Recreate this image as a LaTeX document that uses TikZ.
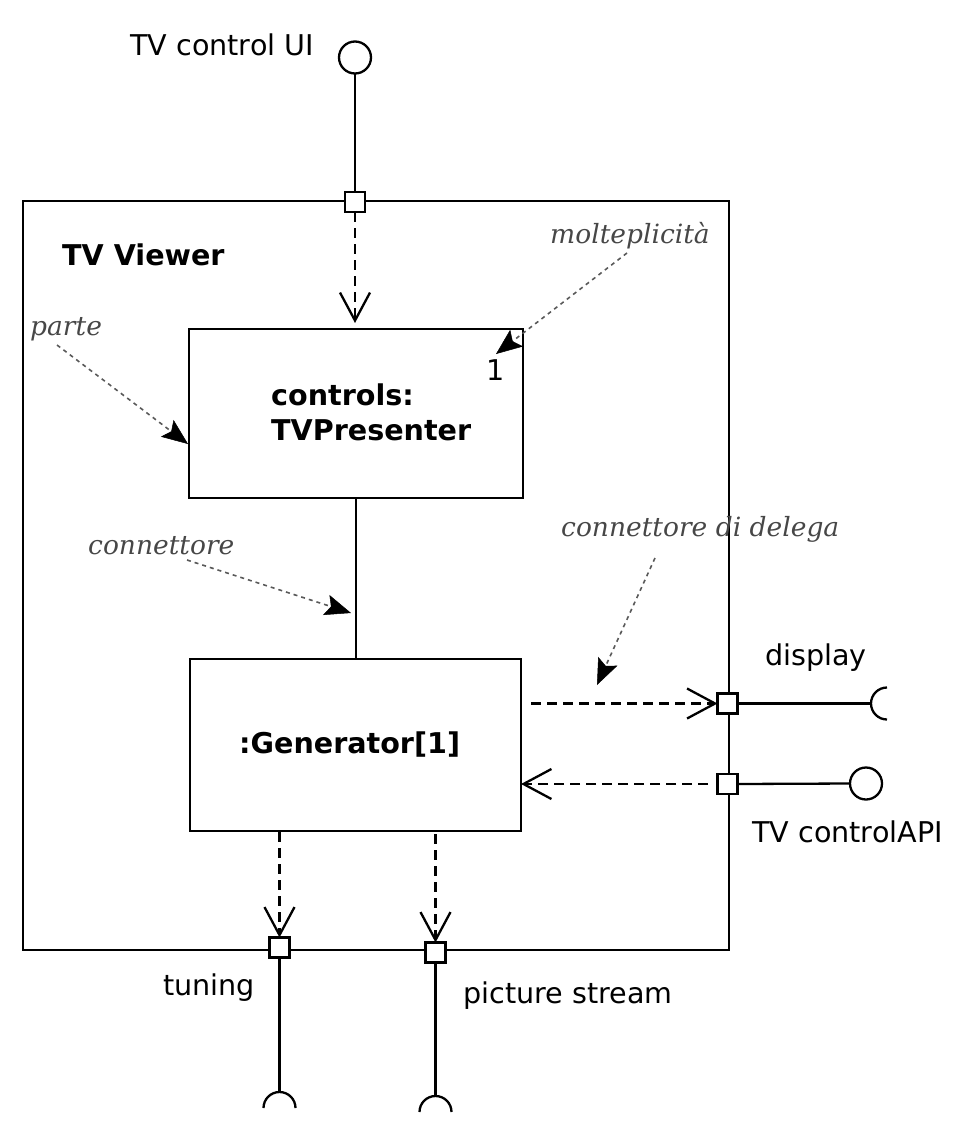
\documentclass[tikz,border=0pt]{standalone}
\usepackage{fontspec}
\setmainfont{DejaVu Sans}
\newfontfamily\annotfont{DejaVu Serif}
\usetikzlibrary{arrows.meta}
\begin{document}
\begin{tikzpicture}[x=1pt,y=-1pt,
  thick line/.style={line width=2.3pt},
  partbox/.style={draw, line width=2.3pt, inner sep=0pt, outer sep=0pt},
  port/.style={draw, fill=white, line width=2.3pt, minimum size=20pt, inner sep=0pt, outer sep=0pt},
  lolli/.style={draw, circle, line width=2.3pt, minimum size=32pt, inner sep=0pt, outer sep=0pt},
  lbl/.style={inner sep=0pt, anchor=base west, font=\fontsize{28.6}{34}\selectfont},
  blbl/.style={inner sep=0pt, anchor=base west, font=\fontsize{28.6}{34}\selectfont\bfseries},
  note/.style={inner sep=0pt, anchor=base west, font=\annotfont\itshape\fontsize{26.5}{32}\selectfont, text=black!72},
  delegation/.style={line width=2.3pt, dash pattern=on 10pt off 6pt, -{Straight Barb[length=28pt,width=30pt]}},
  annot/.style={line width=1.6pt, draw=black!65, dash pattern=on 4pt off 4pt, -{Stealth[length=26pt,width=21pt,inset=5pt,line width=0.5pt,black]}}
]
\useasboundingbox (0,0) rectangle (962,1130);

% containers and parts
\node[partbox, minimum width=706pt, minimum height=749pt] (viewer) at (376,575.5) {};
\node[partbox, minimum width=334pt, minimum height=169pt] (ctrl) at (356,413.5) {};
\node[partbox, minimum width=331pt, minimum height=172pt] (gen) at (355.5,745) {};

% ports
\node[port] (ptop) at (355,202) {};
\node[port] (pdisp) at (727.5,703.5) {};
\node[port] (papi) at (727.5,784) {};
\node[port] (ptun) at (279.5,947.5) {};
\node[port] (ppic) at (435.5,952.5) {};

% provided interfaces
\node[lolli] (cui) at (355,57.5) {};
\node[lolli] (capi) at (866,783.5) {};

% socket ends
\coordinate (dsock) at (872,703.5);
\coordinate (tsock) at (279.5,1092);
\coordinate (psock) at (435.5,1096);

% texts
\node[lbl] (tuiL) at (130,55) {TV control UI};
\node[blbl] (tvvL) at (62,265) {TV Viewer};
\node[blbl] (ctrlL1) at (271,405) {controls:};
\node[blbl] (ctrlL2) at (271,440) {TVPresenter};
\node[lbl] (multL) at (486,380) {1};
\node[blbl] (genL) at (239,753) {:Generator[1]};
\node[lbl] (dispL) at (765,665) {display};
\node[lbl] (apiL) at (752,842) {TV controlAPI};
\node[lbl] (tunL) at (163,995) {tuning};
\node[lbl] (picL) at (463,1003) {picture stream};

\node[note] (n1) at (550,243) {molteplicità};
\node[note] (n2) at (30,335) {parte};
\node[note] (n3) at (88,554) {connettore};
\node[note] (n4) at (561,536) {connettore di delega};

% interface lines
\draw[thick line] (ptop.north) -- (cui.south);
\draw[thick line] (papi.east) -- (capi.west);
\draw[thick line] (pdisp.east) -- (dsock);
\draw[thick line] ([shift={(15pt,16pt)}]dsock) arc[start angle=90, end angle=270, radius=16pt];
\draw[thick line] (ptun.south) -- (tsock);
\draw[thick line] ([shift={(-16pt,-16pt)}]tsock) arc[start angle=180, end angle=0, radius=16pt];
\draw[thick line] (ppic.south) -- (psock);
\draw[thick line] ([shift={(-16pt,-16pt)}]psock) arc[start angle=180, end angle=0, radius=16pt];

% assembly connector
\draw[thick line] (ctrl.south) -- (ctrl.south |- gen.north);

% delegation connectors
\coordinate (ctop) at (355,323);
\draw[delegation] (ptop.south) -- (ctop);
\coordinate (dstart) at (531,703.5);
\draw[delegation] (dstart) -- (pdisp.west);
\coordinate (astart) at (708,784);
\draw[delegation] (astart) -- (gen.east |- papi);
\coordinate (tstart) at (279.5,832);
\draw[delegation] (tstart) -- (ptun.north);
\coordinate (pstart) at (435.5,834);
\draw[delegation] (pstart) -- (ppic.north);

% annotation arrows
\coordinate (a1s) at (627,253); \coordinate (a1e) at (496,354);
\draw[annot] (a1s) -- (a1e);
\coordinate (a2s) at (57,345); \coordinate (a2e) at (188,444);
\draw[annot] (a2s) -- (a2e);
\coordinate (a3s) at (187,560); \coordinate (a3e) at (351,613);
\draw[annot] (a3s) -- (a3e);
\coordinate (a4s) at (655,558); \coordinate (a4e) at (597,685);
\draw[annot] (a4s) -- (a4e);
\end{tikzpicture}
\end{document}
